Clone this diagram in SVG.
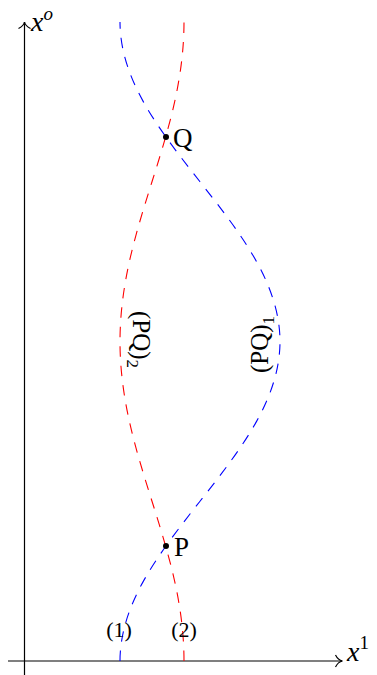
<svg xmlns="http://www.w3.org/2000/svg" width="377" height="675" viewBox="0 0 377 675">
<style>
.ax{fill:none;stroke:#000;stroke-width:1.2}
.cb{fill:none;stroke:#0000ff;stroke-width:1.1;stroke-dasharray:10.5 9}
.cr{fill:none;stroke:#ff0000;stroke-width:1.1;stroke-dasharray:10.5 9}
.t{font-family:'Liberation Serif','Times New Roman',serif;fill:#000}
.it{font-style:italic}
</style>
<rect width="377" height="675" fill="#fff"/>
<g id="connectors">
<path class="ax" d="M8,661 H342"/>
<path class="ax" d="M335.5,655 C337,658 340,660.5 342.5,661 C340,661.5 337,664 335.5,667"/>
<path class="ax" d="M24.5,675 V22"/>
<path class="ax" d="M18.5,28.5 C21.5,27 24,24.5 24.5,22 C25,24.5 27.5,27 30.5,28.5"/>
<path id="curve1" class="cb" d="M120,661 C120,634.375 128.62,607.75 143.43,581.125 C158.24,554.5 179.06,527.875 200,501.25 C220.94,474.625 241.76,448 256.57,421.375 C271.38,394.75 280,368.125 280,341.5 C280,314.875 271.38,288.25 256.57,261.625 C241.76,235 220.94,208.375 200,181.75 C179.06,155.125 158.24,128.5 143.43,101.875 C128.62,75.25 120,48.625 120,22"/>
<path id="curve2" class="cr" d="M184,661 C184,634.375 180.55,607.75 174.63,581.125 C168.71,554.5 160.38,527.875 152,501.25 C143.62,474.625 135.29,448 129.37,421.375 C123.45,394.75 120,368.125 120,341.5 C120,314.875 123.45,288.25 129.37,261.625 C135.29,235 143.62,208.375 152,181.75 C160.38,155.125 168.71,128.5 174.63,101.875 C180.55,75.25 184,48.625 184,22"/>
</g>
<g id="axis-x1"><text class="t" x="347" y="661" font-size="28"><tspan class="it">x</tspan><tspan font-size="19" dy="-12">1</tspan></text></g>
<g id="axis-x0"><text class="t" x="31" y="31" font-size="28"><tspan class="it">x</tspan><tspan class="it" font-size="19" dy="-11">o</tspan></text></g>
<g id="node-Q"><circle cx="166" cy="137" r="3"/><text class="t" x="173" y="147" font-size="27">Q</text></g>
<g id="node-P"><circle cx="166" cy="546" r="3"/><text class="t" x="174" y="556" font-size="27">P</text></g>
<g id="label-1"><text class="t" x="119" y="637" font-size="22" text-anchor="middle">(1)</text></g>
<g id="label-2"><text class="t" x="184" y="637" font-size="22" text-anchor="middle">(2)</text></g>
<g id="label-PQ2"><text class="t" font-size="25" transform="translate(133,311) rotate(90)">(PQ)<tspan font-size="17" dy="6">2</tspan></text></g>
<g id="label-PQ1"><text class="t" font-size="25" transform="translate(268,373) rotate(-90)">(PQ)<tspan font-size="17" dy="6">1</tspan></text></g>
</svg>
